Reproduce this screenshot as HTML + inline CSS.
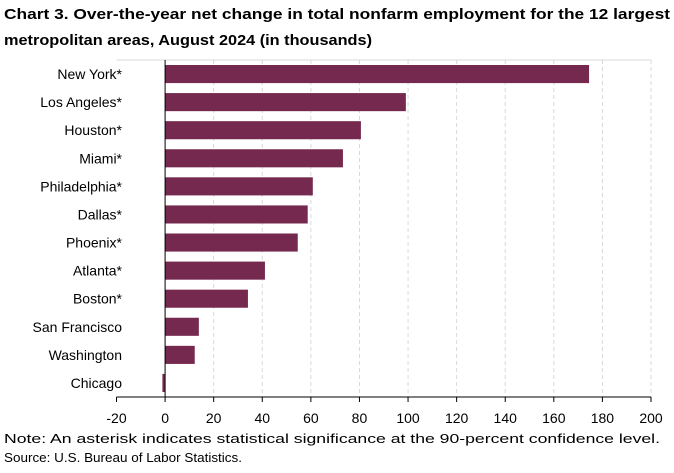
<!DOCTYPE html>
<html><head><meta charset="utf-8"><style>
body{margin:0;background:#fff;font-family:"Liberation Sans",Arial,sans-serif}
svg text{font-family:"Liberation Sans",Arial,sans-serif}
</style></head><body>
<svg width="674" height="468" xmlns="http://www.w3.org/2000/svg">
<text x="4" y="19" font-size="15" font-weight="bold" fill="#000" textLength="666" lengthAdjust="spacingAndGlyphs">Chart 3. Over-the-year net change in total nonfarm employment for the 12 largest</text>
<text x="4" y="45" font-size="15" font-weight="bold" fill="#000" textLength="368" lengthAdjust="spacingAndGlyphs">metropolitan areas, August 2024 (in thousands)</text>
<g id="plot"></g>
<text x="4" y="443" font-size="12.5" fill="#000" textLength="656" lengthAdjust="spacingAndGlyphs">Note: An asterisk indicates statistical significance at the 90-percent confidence level.</text>
<text x="4" y="462" font-size="12.5" fill="#000" textLength="238" lengthAdjust="spacingAndGlyphs">Source: U.S. Bureau of Labor Statistics.</text>
</svg>
<script>
const categories=["New York*","Los Angeles*","Houston*","Miami*","Philadelphia*","Dallas*","Phoenix*","Atlanta*","Boston*","San Francisco","Washington","Chicago"];
const values=[174.5,99.1,80.6,73.2,60.8,58.7,54.6,41.1,34.1,13.9,12.2,-1.1];
const ticks=[-20,0,20,40,60,80,100,120,140,160,180,200];
const NS="http://www.w3.org/2000/svg";
const plotG=document.getElementById('plot');
const xMin=-20,xMax=200,plotLeft=116.5,plotRight=651,plotTop=60,plotBottom=397;
const xs=v=>plotLeft+(v-xMin)/(xMax-xMin)*(plotRight-plotLeft);
const rowH=(plotBottom-plotTop)/categories.length;
function mk(t,a){const e=document.createElementNS(NS,t);for(const k in a)e.setAttribute(k,a[k]);plotG.appendChild(e);return e;}
const bl=mk('line',{x1:plotLeft,x2:plotRight,y1:plotTop,y2:plotTop,stroke:'#d9d9d9'});


ticks.forEach(t=>{
  if(t!==0&&t!==xMin){const gl=mk('line',{x1:xs(t),x2:xs(t),y1:plotTop,y2:plotBottom,stroke:'#d9d9d9','stroke-dasharray':'4,3'});
  
  }
  const tk=mk('line',{x1:xs(t),x2:xs(t),y1:plotBottom,y2:plotBottom+5,stroke:'#000'});
  
  
  const tx=mk('text',{x:xs(t),y:plotBottom+26,'text-anchor':'middle','font-size':'14',fill:'#000'});
  tx.textContent=t;
  
  
});
categories.forEach((c,i)=>{
  const v=values[i],y0=plotTop+i*rowH;
  const b=mk('rect',{x:Math.min(xs(0),xs(v)),y:y0+5,width:Math.abs(xs(v)-xs(0)),height:rowH-10,fill:'#76294e'});
  
  
  const t=mk('text',{x:122,y:y0+rowH/2+5,'text-anchor':'end','font-size':'14',fill:'#000'});
  t.textContent=c;
  
  
});
const xa=mk('line',{x1:plotLeft,x2:plotRight,y1:plotBottom,y2:plotBottom,stroke:'#000'});


const ya=mk('line',{x1:xs(0),x2:xs(0),y1:plotTop,y2:plotBottom,stroke:'#000'});


</script>
</body></html>
